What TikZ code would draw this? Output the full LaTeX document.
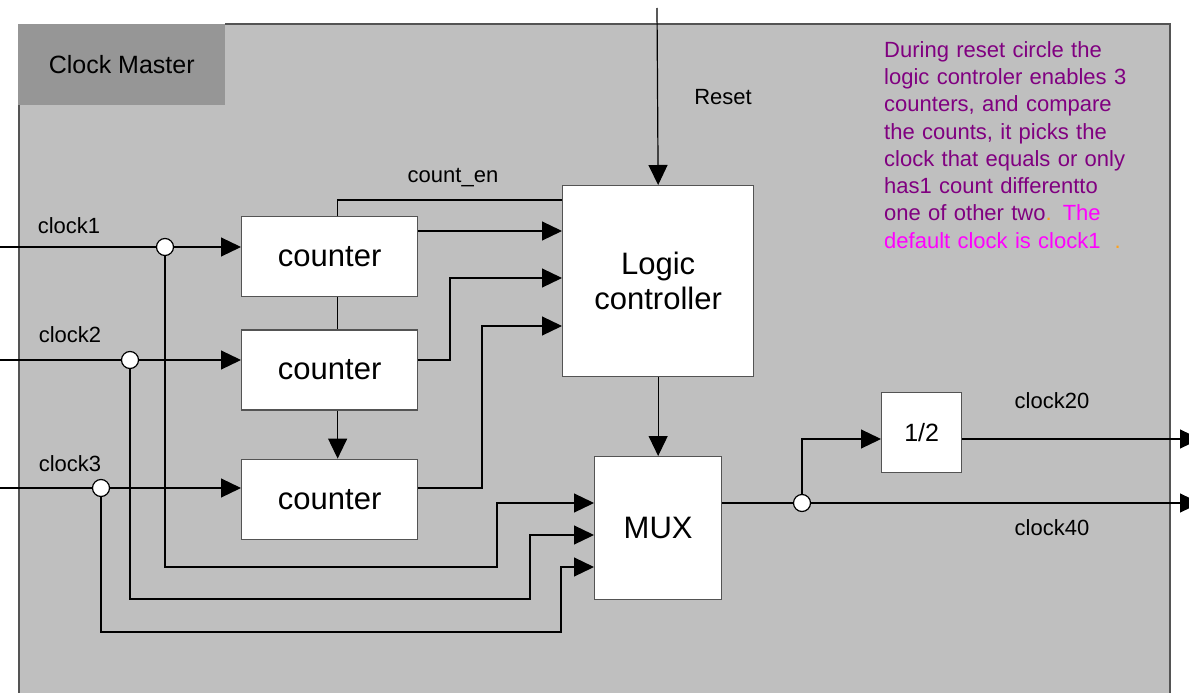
\documentclass[tikz,border=0pt]{standalone}
\usepackage{fontspec}
\setmainfont{Liberation Sans}
\usetikzlibrary{arrows.meta, positioning, calc}
\definecolor{panel}{rgb}{0.75,0.75,0.75}
\definecolor{tab}{rgb}{0.59,0.59,0.59}
\definecolor{rim}{rgb}{0.33,0.33,0.33}
\definecolor{notepurple}{rgb}{0.5,0,0.5}
\definecolor{notepink}{rgb}{1,0,1}
\definecolor{noteamber}{rgb}{1,0.63,0.1}

\tikzset{
	block/.style={draw=rim, fill=white, line width=1.3pt, inner sep=0pt, align=center, font=\fontsize{31}{35}\selectfont},
	wire/.style={line width=1.2pt},
	feed/.style={wire, -{Triangle[length=20pt,width=19pt]}},
	tap/.style={circle, draw, fill=white, line width=1.2pt, minimum size=17pt, inner sep=0pt},
	lbl/.style={font=\fontsize{22}{26}\selectfont}
}

\begin{document}
\begin{tikzpicture}[x=1pt,y=-1pt]
		\useasboundingbox (0,0) rectangle (1189,693);
		
		%----------------------------------------------------------------
		\fill[panel] (19,24) rectangle (1170,700);
		\draw[rim,line width=1.5pt] (19,700) -- (19,104);
		\draw[rim,line width=1.5pt] (225,24) -- (1170,24) -- (1170,700);
		\node(title) [fill=tab, minimum width=207pt, minimum height=81pt, anchor=north west, font=\fontsize{25}{30}\selectfont] at (18,24) {Clock Master};
		
		%----------------------------------------------------------------
		\node(cnt1) [block, minimum width=176pt, minimum height=80pt, anchor=north west] at (241,216) {counter};
		\node(cnt2) [block, minimum width=176pt, minimum height=80pt, below=32pt of cnt1] {counter};
		\node(cnt3) [block, minimum width=176pt, minimum height=80pt, below=48pt of cnt2] {counter};
		
		\node(logic) [block, minimum width=191pt, minimum height=191pt, anchor=north west] at (562,185) {Logic\\controller};
		\node(mux) [block, minimum width=127pt, minimum height=143pt, anchor=north west] at (594,456) {MUX};
		\node(half) [block, minimum width=80pt, minimum height=80pt, anchor=north west, font=\fontsize{25}{30}\selectfont] at (881,392) {1/2};
		
		%----------------------------------------------------------------
		\coordinate (in1) at (0,247);
		\coordinate (in2) at (0,360);
		\coordinate (in3) at (0,488);
		\node(tap1) [tap] at (165,247) {};
		\node(tap2) [tap] at (130,360) {};
		\node(tap3) [tap] at (101,488) {};
		
		\node(lclk1) [lbl] at (69,226) {clock1};
		\node(lclk2) [lbl] at (70,335) {clock2};
		\node(lclk3) [lbl] at (70,464) {clock3};
		
		\draw[wire] (in1) -- (tap1);
		\draw[wire] (in2) -- (tap2);
		\draw[wire] (in3) -- (tap3);
		\draw[feed] (tap1) -- (cnt1.west |- tap1);
		\draw[feed] (tap2) -- (cnt2.west |- tap2);
		\draw[feed] (tap3) -- (cnt3.west |- tap3);
		
		\draw[feed] (tap1) |- (497,567) |- (mux.west |- 0,503);
		\draw[feed] (tap2) |- (530,599) |- (mux.west |- 0,535);
		\draw[feed] (tap3) |- (561,632) |- (mux.west |- 0,567);
		
		%----------------------------------------------------------------
		\draw[wire] ([xshift=8pt]cnt1.north) |- (logic.west |- 0,200);
		\node(len) [lbl] at (453,178) {count\_en};
		\draw[wire] ([xshift=8pt]cnt1.south) -- ([xshift=8pt]cnt2.north);
		\draw[feed] ([xshift=8pt]cnt2.south) -- ([xshift=8pt]cnt3.north);
		
		\draw[feed] (cnt1.east |- 0,231) -- (logic.west |- 0,231);
		\draw[feed] (cnt2.east |- tap2) -| (450,278) -- (logic.west |- 0,278);
		\draw[feed] (cnt3.east |- tap3) -| (482,326) -- (logic.west |- 0,326);
		
		\coordinate (rst) at (657,8);
		\draw[feed] (rst) -- (logic.north);
		\node(lrst) [lbl] at (723,97) {Reset};
		
		\draw[feed] (logic.south) -- (mux.north);
		
		%----------------------------------------------------------------
		\node(tap4) [tap] at (802,503) {};
		\coordinate (out20) at (1200,439);
		\coordinate (out40) at (1200,503);
		\draw[wire] (mux.east |- tap4) -- (tap4);
		\draw[feed] (tap4) -- (out40);
		\draw[feed] (tap4) |- (half.west |- 0,439);
		\draw[feed] (half.east |- 0,439) -- (out20);
		\node(lc20) [lbl] at (1052,401) {clock20};
		\node(lc40) [lbl] at (1052,528) {clock40};
		
		%----------------------------------------------------------------
		\node(note) [anchor=north west, inner sep=0pt, text width=300pt, align=left, font=\fontsize{22}{27.3}\selectfont] at (884,41) {
			\color{notepurple}During reset circle the\\
			logic controler enables 3\\
			counters, and compare\\
			the counts, it picks the\\
			clock that equals or only\\
			has1 count differentto\\
			one of other two{\color{noteamber}.} {\color{notepink}The}\\
			{\color{notepink}default clock is clock1}\hspace{14pt}{\color{noteamber}.}
		};
		
	\end{tikzpicture}
\end{document}
